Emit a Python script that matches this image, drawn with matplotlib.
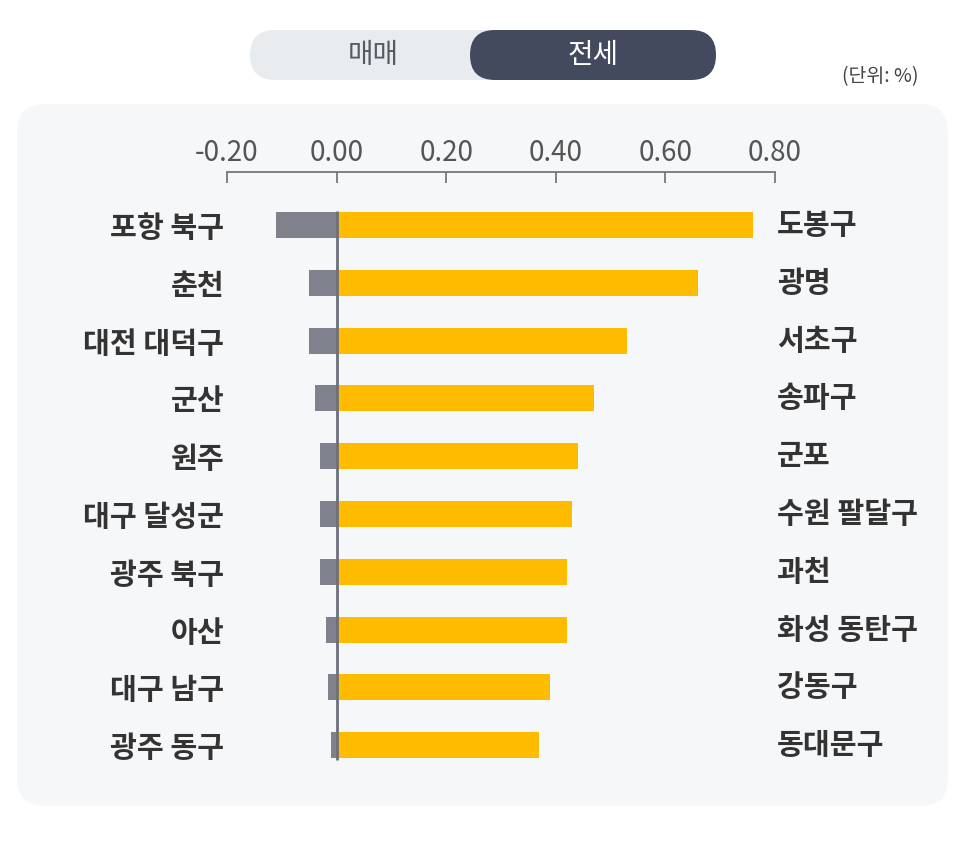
import matplotlib
matplotlib.use("Agg")
import matplotlib.pyplot as plt
import matplotlib.transforms as mtransforms
from matplotlib.patches import FancyBboxPatch

plt.rcParams['font.family'] = ['Noto Sans CJK KR', 'DejaVu Sans']

# 매매 (left labels, gray) and 전세 (right labels, yellow), unit: %
left_regions = ['포항 북구', '춘천', '대전 대덕구', '군산', '원주',
                '대구 달성군', '광주 북구', '아산', '대구 남구', '광주 동구']
sale_values = [-0.11, -0.05, -0.05, -0.04, -0.03, -0.03, -0.03, -0.02, -0.015, -0.01]

right_regions = ['도봉구', '광명', '서초구', '송파구', '군포',
                 '수원 팔달구', '과천', '화성 동탄구', '강동구', '동대문구']
jeonse_values = [0.76, 0.66, 0.53, 0.47, 0.44, 0.43, 0.42, 0.42, 0.39, 0.37]

x_ticks = [-0.2, 0.0, 0.2, 0.4, 0.6, 0.8]
tick_labels = ['-0.20', '0.00', '0.20', '0.40', '0.60', '0.80']

W, H = 966, 855
fig = plt.figure(figsize=(W / 100, H / 100), dpi=100)
fig.patch.set_facecolor('white')

# background layer in pixel coordinates
bg = fig.add_axes([0, 0, 1, 1])
bg.set_xlim(0, W)
bg.set_ylim(H, 0)
bg.axis('off')

panel = FancyBboxPatch((17, 104), 931, 702, boxstyle='round,pad=0,rounding_size=28',
                       facecolor='#f6f7f9', edgecolor='none')
bg.add_patch(panel)

# toggle
bg.add_patch(FancyBboxPatch((250, 30), 466, 50, boxstyle='round,pad=0,rounding_size=25',
                            facecolor='#e9ecef', edgecolor='none'))
bg.add_patch(FancyBboxPatch((470, 30), 246, 50, boxstyle='round,pad=0,rounding_size=25',
                            facecolor='#444a5e', edgecolor='none'))
bg.text(373, 55, '매매', ha='center', va='center', fontsize=20, color='#555a63')
bg.text(593, 55, '전세', ha='center', va='center', fontsize=20, color='white')
bg.text(918, 77, '(단위: %)', ha='right', va='center', fontsize=14, color='#444')

# chart axes: x from 227px to 775px, y from 172px to 770px
left_px, right_px, top_px, bot_px = 227, 775, 172, 770
ax = fig.add_axes([left_px / W, 1 - bot_px / H, (right_px - left_px) / W, (bot_px - top_px) / H])
ax.set_facecolor('none')

rows = list(range(len(left_regions)))
ax.barh(rows, jeonse_values, height=0.45, color='#ffbb00', zorder=2)
ax.barh(rows, sale_values, height=0.45, color='#7f818c', zorder=2)
ax.vlines(0, -0.25, 9.25, color='#6d7078', linewidth=2, zorder=3)

ax.set_xlim(-0.2, 0.8)
ax.set_ylim(9.43, -0.92)

for s in ['left', 'right', 'bottom']:
    ax.spines[s].set_visible(False)
ax.spines['top'].set_color('#777777')
ax.spines['top'].set_linewidth(1.3)
ax.xaxis.tick_top()
ax.set_xticks(x_ticks)
ax.set_xticklabels(tick_labels)
ax.tick_params(axis='x', direction='in', length=8, width=1.3, color='#777777',
               pad=3, labelsize=20, labelcolor='#555555')

ax.set_yticks(rows)
ax.set_yticklabels(left_regions)
ax.tick_params(axis='y', length=0, pad=2, labelsize=21, labelcolor='#333333')
for lbl in ax.get_yticklabels():
    lbl.set_fontweight('bold')

trans = mtransforms.blended_transform_factory(ax.transAxes, ax.transData)
for r, name in zip(rows, right_regions):
    ax.text(1.004, r, name, transform=trans, ha='left', va='center',
            fontsize=21, color='#333333', fontweight='bold')

fig.savefig('out.png', dpi=100, facecolor='white')
